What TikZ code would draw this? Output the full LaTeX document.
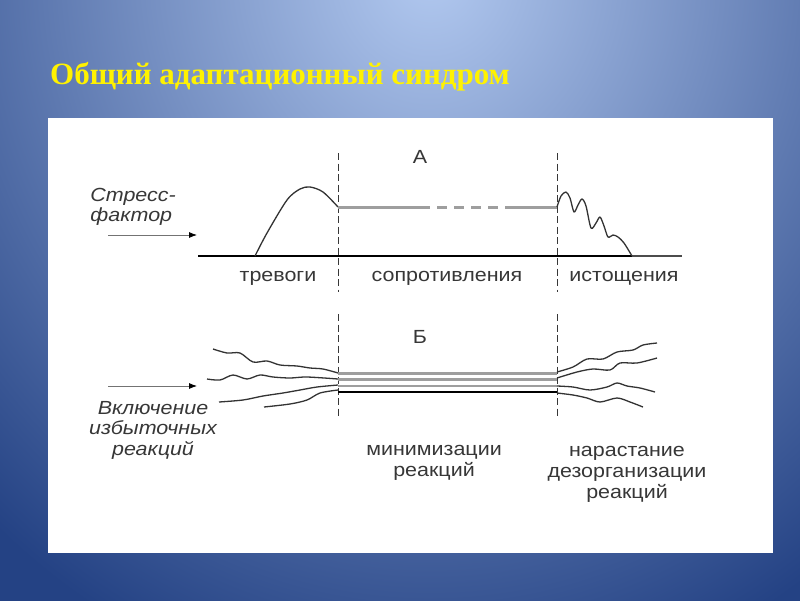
\documentclass[tikz,border=0pt]{standalone}
\usepackage{fontspec}
\setmainfont{Liberation Serif}
\setsansfont{Liberation Sans}
\newfontfamily\labelfont[FakeStretch=1.13]{Liberation Sans}
\usetikzlibrary{arrows.meta,positioning}
\definecolor{bglight}{RGB}{178,201,240}
\definecolor{bgdark}{RGB}{36,66,132}
\definecolor{inkgray}{RGB}{55,55,55}
\definecolor{bandgray}{RGB}{158,158,158}
\tikzstyle{phase}=[font=\labelfont\fontsize{19}{21}\selectfont,text=inkgray,inner sep=0pt,align=center]
\tikzstyle{cause}=[font=\labelfont\itshape\fontsize{19}{20.5}\selectfont,text=inkgray,inner sep=0pt,align=center]
\tikzstyle{border}=[line width=0.8pt,draw=inkgray,dash pattern=on 7pt off 3.5pt]
\tikzstyle{input}=[-{Latex[length=8pt,width=6pt,color=black]},line width=0.8pt,draw=black!55]
\tikzstyle{reaction}=[line width=1.3pt,draw=black!80,line join=round]
\tikzstyle{band}=[line width=3pt,draw=bandgray]
\tikzstyle{thinband}=[line width=2pt,draw=bandgray]
\tikzstyle{blackline}=[line width=2pt,draw=black]
\newcommand*{\strand}[1]{\draw[reaction] plot[smooth,tension=0.5] coordinates {#1};}

\begin{document}
\begin{tikzpicture}[x=1pt,y=-1pt]
  \useasboundingbox (0,0) rectangle (800,600);
  % slide background
  \begin{scope}
    \clip (-5,-5) rectangle (805,605);
    \fill[bgdark] (-5,-5) rectangle (805,605);
    \shade[inner color=bglight,outer color=bgdark] (430,-30) ellipse (660 and 740);
  \end{scope}
  \node[anchor=west,inner sep=0pt,text=yellow,font=\bfseries\fontsize{31}{34}\selectfont] (title) at (50,77) {Общий адаптационный синдром};
  \node[fill=white,anchor=north west,inner sep=0pt,minimum width=725pt,minimum height=435pt] (panel) at (48,118) {};
  % phase borders
  \foreach \x in {338,557} {
    \draw[border] (\x,153) -- (\x,292);
    \draw[border] (\x,314) -- (\x,416);
  }
  % part A
  \node[phase] (tA) at (420,157) {А};
  \draw[line width=1.6pt] (198,256) -- (632,256);
  \draw[line width=1.6pt,draw=black!70] (632,256) -- (682,256);
  \strand{(255,256) (267,233) (287,200) (300,189) (310,187) (323,192) (338,207)}
  \draw[band] (338,207) -- (420,207);
  \draw[band,dash pattern=on 10pt off 7pt] (420,207) -- (505,207);
  \draw[band] (505,207) -- (557,207);
  \strand{(557,207) (561,196) (566,192) (570,198) (574,212) (578,205) (582,199) (586,206) (591,228) (596,223) (600,217) (604,226) (608,237) (613,235) (618,237) (624,243) (632,256)}
  \node[cause,anchor=east,align=left] (stress) at (176,207) {Стресс-\\фактор};
  \coordinate (sA) at (108,235);
  \coordinate (eA) at (197,235);
  \draw[input] (sA) -- (eA);
  \node[phase] (alarm) at (278,278) {тревоги};
  \node[phase] (resist) at (447,278) {сопротивления};
  \node[phase] (exhaust) at (624,278) {истощения};
  % part B
  \node[phase] (tB) at (420,337) {Б};
  \foreach \y/\s in {373/band,379/band,386/thinband,392/blackline} {
    \draw[\s] (338,\y) -- (557,\y);
  }
  \strand{(213,349) (227,353) (240,353) (253,362) (267,361) (280,365) (297,366) (310,368) (323,369) (338,373)}
  \strand{(207,379) (220,380) (233,375) (247,379) (260,375) (273,377) (290,378) (307,377) (338,379)}
  \strand{(219,402) (243,400) (263,396) (283,393) (300,390) (317,387) (338,385)}
  \strand{(264,407) (290,404) (307,400) (320,393) (338,390)}
  \strand{(557,372) (573,367) (587,359) (603,359) (617,352) (633,350) (643,345) (657,343)}
  \strand{(557,378) (577,372) (593,369) (610,370) (620,363) (637,363) (657,358)}
  \strand{(557,386) (573,387) (590,390) (607,387) (617,383) (627,386) (640,388) (655,392)}
  \strand{(557,393) (573,395) (587,398) (600,402) (617,398) (630,402) (643,407)}
  \coordinate (sB) at (108,386);
  \coordinate (eB) at (197,386);
  \draw[input] (sB) -- (eB);
  \node[cause] (excess) at (153,430) {Включение\\избыточных\\реакций};
  \node[phase] (minim) at (434,463) {минимизации\\реакций};
  \node[phase] (disorg) at (627,474) {нарастание\\дезорганизации\\реакций};
\end{tikzpicture}
\end{document}
